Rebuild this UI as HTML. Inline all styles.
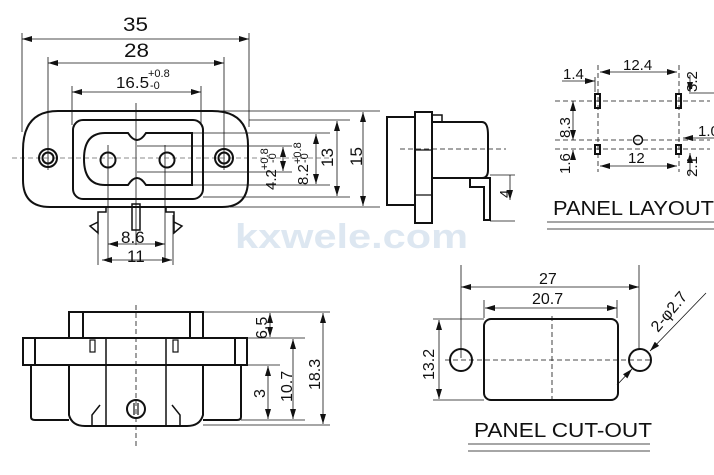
<!DOCTYPE html>
<html><head><style>html,body{margin:0;padding:0;background:#fff}svg{display:block}text{font-family:"Liberation Sans",sans-serif;fill:#111}</style></head>
<body>
<svg width="714" height="475" viewBox="0 0 714 475" xmlns="http://www.w3.org/2000/svg">
<defs>
<marker id="a" viewBox="0 0 10 6" refX="10" refY="3" markerWidth="10" markerHeight="6" orient="auto-start-reverse" markerUnits="userSpaceOnUse"><path d="M0,0L10,3L0,6z" fill="#111"/></marker>
</defs>
<text x="235" y="248" font-size="34" font-weight="bold" style="fill:#dde7f1" textLength="233" lengthAdjust="spacingAndGlyphs">kxwele.com</text>
<g stroke="#111" fill="none" stroke-width="0.8">
<line x1="22" y1="33" x2="22" y2="132"/><line x1="249" y1="33" x2="249" y2="127"/>
<line x1="48" y1="57" x2="48" y2="170"/><line x1="224" y1="57" x2="224" y2="170"/>
<line x1="72" y1="86" x2="72" y2="125"/><line x1="201" y1="86" x2="201" y2="125"/>
<line x1="22" y1="39" x2="249" y2="39" marker-start="url(#a)" marker-end="url(#a)"/>
<line x1="48" y1="63" x2="224" y2="63" marker-start="url(#a)" marker-end="url(#a)"/>
<line x1="72" y1="92" x2="201" y2="92" marker-start="url(#a)" marker-end="url(#a)"/>
<line x1="136" y1="103" x2="136" y2="245"/>
<line x1="108" y1="145" x2="108" y2="262"/><line x1="165" y1="145" x2="165" y2="262"/>
<line x1="98" y1="215" x2="98" y2="265"/><line x1="173" y1="215" x2="173" y2="265"/>
<line x1="108" y1="244" x2="165" y2="244" marker-start="url(#a)" marker-end="url(#a)"/>
<line x1="102" y1="260" x2="172" y2="260" marker-start="url(#a)" marker-end="url(#a)"/>
<line x1="215" y1="111" x2="380" y2="111"/><line x1="249" y1="120" x2="350" y2="120"/>
<line x1="192" y1="133" x2="330" y2="133"/><line x1="137" y1="146" x2="292" y2="146"/>
<line x1="137" y1="172" x2="292" y2="172"/><line x1="192" y1="185" x2="330" y2="185"/>
<line x1="203" y1="197" x2="350" y2="197"/><line x1="230" y1="207" x2="380" y2="207"/>
<line x1="363" y1="112" x2="363" y2="206" marker-start="url(#a)" marker-end="url(#a)"/>
<line x1="337" y1="121" x2="337" y2="196" marker-start="url(#a)" marker-end="url(#a)"/>
<line x1="316" y1="134" x2="316" y2="184" marker-start="url(#a)" marker-end="url(#a)"/>
<line x1="283" y1="147" x2="283" y2="171" marker-start="url(#a)" marker-end="url(#a)"/>
<line x1="12" y1="158" x2="330" y2="158" stroke-dasharray="5,3" stroke="#666"/>
</g>
<g stroke="#111" fill="none" stroke-width="2">
<path d="M58,111 H212 Q248,111 248,145 V180 Q248,207 222,207 H50 Q23,207 23,180 V150 Q23,111 58,111Z"/>
<rect x="73" y="120" width="130" height="79" rx="10"/>
<path d="M105,133 H128 Q137,147 146,133 H192 V185 H146 Q137,171 128,185 H105 Q84,185 84,159 Q84,133 105,133Z"/>
<circle cx="108" cy="160" r="7.5"/><circle cx="167" cy="160" r="7.5"/>
<circle cx="48" cy="158" r="9"/><circle cx="48" cy="158" r="5.5"/>
<circle cx="224" cy="158" r="9"/><circle cx="224" cy="158" r="5.5"/>
<path d="M106,207 V212 H98 V222 L90,226 L98,233 V212" stroke-width="1.5"/>
<path d="M166,207 V212 H174 V222 L182,226 L174,233 V212" stroke-width="1.5"/>
<rect x="132" y="204" width="8" height="26" stroke-width="1.5"/>
</g>
<g font-size="19"><text x="123" y="31" textLength="25" lengthAdjust="spacingAndGlyphs">35</text><text x="124" y="57" textLength="25" lengthAdjust="spacingAndGlyphs">28</text></g>
<text x="116" y="88" font-size="16" textLength="33" lengthAdjust="spacingAndGlyphs">16.5</text><text x="148" y="77" font-size="11">+0.8</text><text x="150" y="89" font-size="11">-0</text>
<text x="121" y="243" font-size="17">8.6</text><text x="127" y="262" font-size="17">11</text>
<g font-size="15">
<text transform="translate(362,166) rotate(-90)" font-size="17">15</text>
<text transform="translate(333,167) rotate(-90)" font-size="17">13</text>
<text transform="translate(308,185) rotate(-90)">8.2</text>
<text transform="translate(301,164) rotate(-90)" font-size="11">+0.8</text>
<text transform="translate(308,163) rotate(-90)" font-size="11">-0</text>
<text transform="translate(276,190) rotate(-90)">4.2</text>
<text transform="translate(268,170) rotate(-90)" font-size="11">+0.8</text>
<text transform="translate(276,163) rotate(-90)" font-size="11">-0</text>
</g>
<g stroke="#111" fill="none" stroke-width="2">
<rect x="387" y="117" width="28" height="88"/>
<rect x="415" y="112" width="17" height="111"/>
<path d="M432,122 H482 Q488,122 488,135 V170 Q488,178 482,178 H432"/>
<path d="M432,178 H490 V220 H484 V187 H470 V178"/>
<rect x="432" y="115" width="10" height="7" stroke-width="1.5"/>
<line x1="415" y1="150" x2="432" y2="150" stroke-width="1.2"/>
<line x1="415" y1="195" x2="432" y2="195" stroke-width="1.2"/>
</g>
<g stroke="#111" fill="none" stroke-width="0.8">
<line x1="400" y1="149" x2="506" y2="149" stroke-dasharray="5,3"/>
<line x1="490" y1="175" x2="515" y2="175"/><line x1="490" y1="221" x2="515" y2="221"/>
<line x1="510" y1="175" x2="510" y2="200" marker-end="url(#a)"/>
</g>
<text transform="translate(510,198) rotate(-90)" font-size="15">4</text>
<g stroke="#111" fill="none" stroke-width="0.8">
<line x1="555" y1="101" x2="710" y2="101" stroke-dasharray="5,3"/>
<line x1="555" y1="140" x2="710" y2="140" stroke-dasharray="5,3"/>
<line x1="555" y1="149" x2="710" y2="149" stroke-dasharray="5,3"/>
<line x1="598" y1="65" x2="598" y2="172" stroke-dasharray="5,3"/>
<line x1="679" y1="65" x2="679" y2="172" stroke-dasharray="5,3"/>
<line x1="600" y1="72" x2="677" y2="72" marker-start="url(#a)" marker-end="url(#a)"/>
<line x1="600" y1="166" x2="677" y2="166" marker-start="url(#a)" marker-end="url(#a)"/>
<line x1="573" y1="101" x2="573" y2="140" marker-start="url(#a)" marker-end="url(#a)"/>
<line x1="573" y1="160" x2="573" y2="150" marker-end="url(#a)"/>
<line x1="562" y1="81" x2="595" y2="81" marker-end="url(#a)"/><line x1="595" y1="77" x2="595" y2="92"/>
<line x1="689" y1="93" x2="714" y2="93"/><line x1="690" y1="75" x2="690" y2="92" marker-end="url(#a)"/>
<line x1="714" y1="138" x2="683" y2="138" marker-end="url(#a)"/>
<line x1="690" y1="175" x2="690" y2="153" marker-end="url(#a)"/>
<line x1="547" y1="222" x2="714" y2="222"/><line x1="547" y1="229" x2="714" y2="229"/>
</g>
<g stroke="#111" fill="none" stroke-width="2">
<rect x="595" y="94" width="5" height="14"/><rect x="676" y="94" width="5" height="14"/>
<rect x="595" y="145" width="5" height="9"/><rect x="676" y="145" width="5" height="9"/>
<circle cx="638" cy="140" r="4.5" stroke-width="1.5"/>
</g>
<g font-size="15">
<text x="623" y="70">12.4</text><text x="563" y="79">1.4</text><text x="628" y="163">12</text>
<text x="698" y="136">1.0</text>
<text transform="translate(697,92) rotate(-90)">3.2</text>
<text transform="translate(570,138) rotate(-90)">8.3</text>
<text transform="translate(570,174) rotate(-90)">1.6</text>
<text transform="translate(697,177) rotate(-90)">2.1</text>
</g>
<text x="553" y="215" font-size="20" textLength="161" lengthAdjust="spacingAndGlyphs">PANEL LAYOUT</text>
<g stroke="#111" fill="none" stroke-width="0.8">
<line x1="461" y1="265" x2="461" y2="358"/><line x1="639" y1="265" x2="639" y2="350"/>
<line x1="484" y1="300" x2="484" y2="318"/><line x1="617" y1="300" x2="617" y2="318"/>
<line x1="461" y1="287" x2="639" y2="287" marker-start="url(#a)" marker-end="url(#a)"/>
<line x1="485" y1="308" x2="617" y2="308" marker-start="url(#a)" marker-end="url(#a)"/>
<line x1="433" y1="319" x2="484" y2="319"/><line x1="433" y1="400" x2="484" y2="400"/>
<line x1="439" y1="320" x2="439" y2="399" marker-start="url(#a)" marker-end="url(#a)"/>
<line x1="445" y1="360" x2="652" y2="360" stroke-dasharray="5,3"/>
<line x1="552" y1="316" x2="552" y2="400" stroke-dasharray="5,3"/>
<line x1="706" y1="293" x2="650" y2="351" marker-end="url(#a)"/>
<line x1="617" y1="385" x2="632" y2="369" marker-end="url(#a)"/>
<line x1="468" y1="444" x2="650" y2="444"/><line x1="468" y1="451" x2="650" y2="451"/>
</g>
<g stroke="#111" fill="none" stroke-width="2">
<rect x="484" y="319" width="134" height="81" rx="7"/>
<circle cx="461" cy="360" r="11"/><circle cx="640" cy="360" r="11"/>
</g>
<g font-size="16"><text x="539" y="284">27</text><text x="532" y="304">20.7</text>
<text transform="translate(434,380) rotate(-90)">13.2</text>
<text transform="translate(658,333) rotate(-50)">2-φ2.7</text></g>
<text x="474" y="437" font-size="20" textLength="178" lengthAdjust="spacingAndGlyphs">PANEL CUT-OUT</text>
<g stroke="#111" fill="none" stroke-width="2">
<rect x="69" y="312" width="134" height="26"/>
<line x1="83" y1="312" x2="83" y2="338"/><line x1="190" y1="312" x2="190" y2="338"/>
<rect x="23" y="338" width="224" height="27"/>
<line x1="35" y1="338" x2="35" y2="365"/><line x1="235" y1="338" x2="235" y2="365"/>
<path d="M31,365 V417 Q31,420 35,420 H69"/><path d="M241,365 V417 Q241,420 237,420 H203"/>
<path d="M69,365 V415 Q72,426 85,426 H187 Q200,426 203,415 V365"/>
<line x1="106" y1="338" x2="106" y2="425" stroke-width="1.5"/><line x1="166" y1="338" x2="166" y2="425" stroke-width="1.5"/>
<circle cx="136" cy="409" r="9"/>
<line x1="134" y1="403" x2="134" y2="415" stroke-width="1.2"/><line x1="138" y1="403" x2="138" y2="415" stroke-width="1.2"/>
<rect x="90" y="340" width="5" height="12" stroke-width="1.2"/><rect x="173" y="340" width="5" height="12" stroke-width="1.2"/>
<path d="M100,405 L92,415 V425" stroke-width="1.5"/><path d="M172,405 L180,415 V425" stroke-width="1.5"/>
</g>
<g stroke="#111" fill="none" stroke-width="0.8">
<line x1="136" y1="305" x2="136" y2="446" stroke-dasharray="5,3"/>
<line x1="203" y1="312" x2="330" y2="312"/><line x1="247" y1="338" x2="305" y2="338"/>
<line x1="247" y1="365" x2="280" y2="365"/><line x1="241" y1="420" x2="305" y2="420"/>
<line x1="203" y1="425" x2="330" y2="425"/>
<line x1="270" y1="313" x2="270" y2="337" marker-start="url(#a)" marker-end="url(#a)"/>
<line x1="268" y1="366" x2="268" y2="419" marker-start="url(#a)" marker-end="url(#a)"/>
<line x1="293" y1="339" x2="293" y2="419" marker-start="url(#a)" marker-end="url(#a)"/>
<line x1="323" y1="313" x2="323" y2="424" marker-start="url(#a)" marker-end="url(#a)"/>
</g>
<g font-size="16">
<text transform="translate(267,339) rotate(-90)">6.5</text>
<text transform="translate(265,398) rotate(-90)">3</text>
<text transform="translate(292,402) rotate(-90)">10.7</text>
<text transform="translate(320,390) rotate(-90)">18.3</text>
</g>
</svg>
</body></html>
